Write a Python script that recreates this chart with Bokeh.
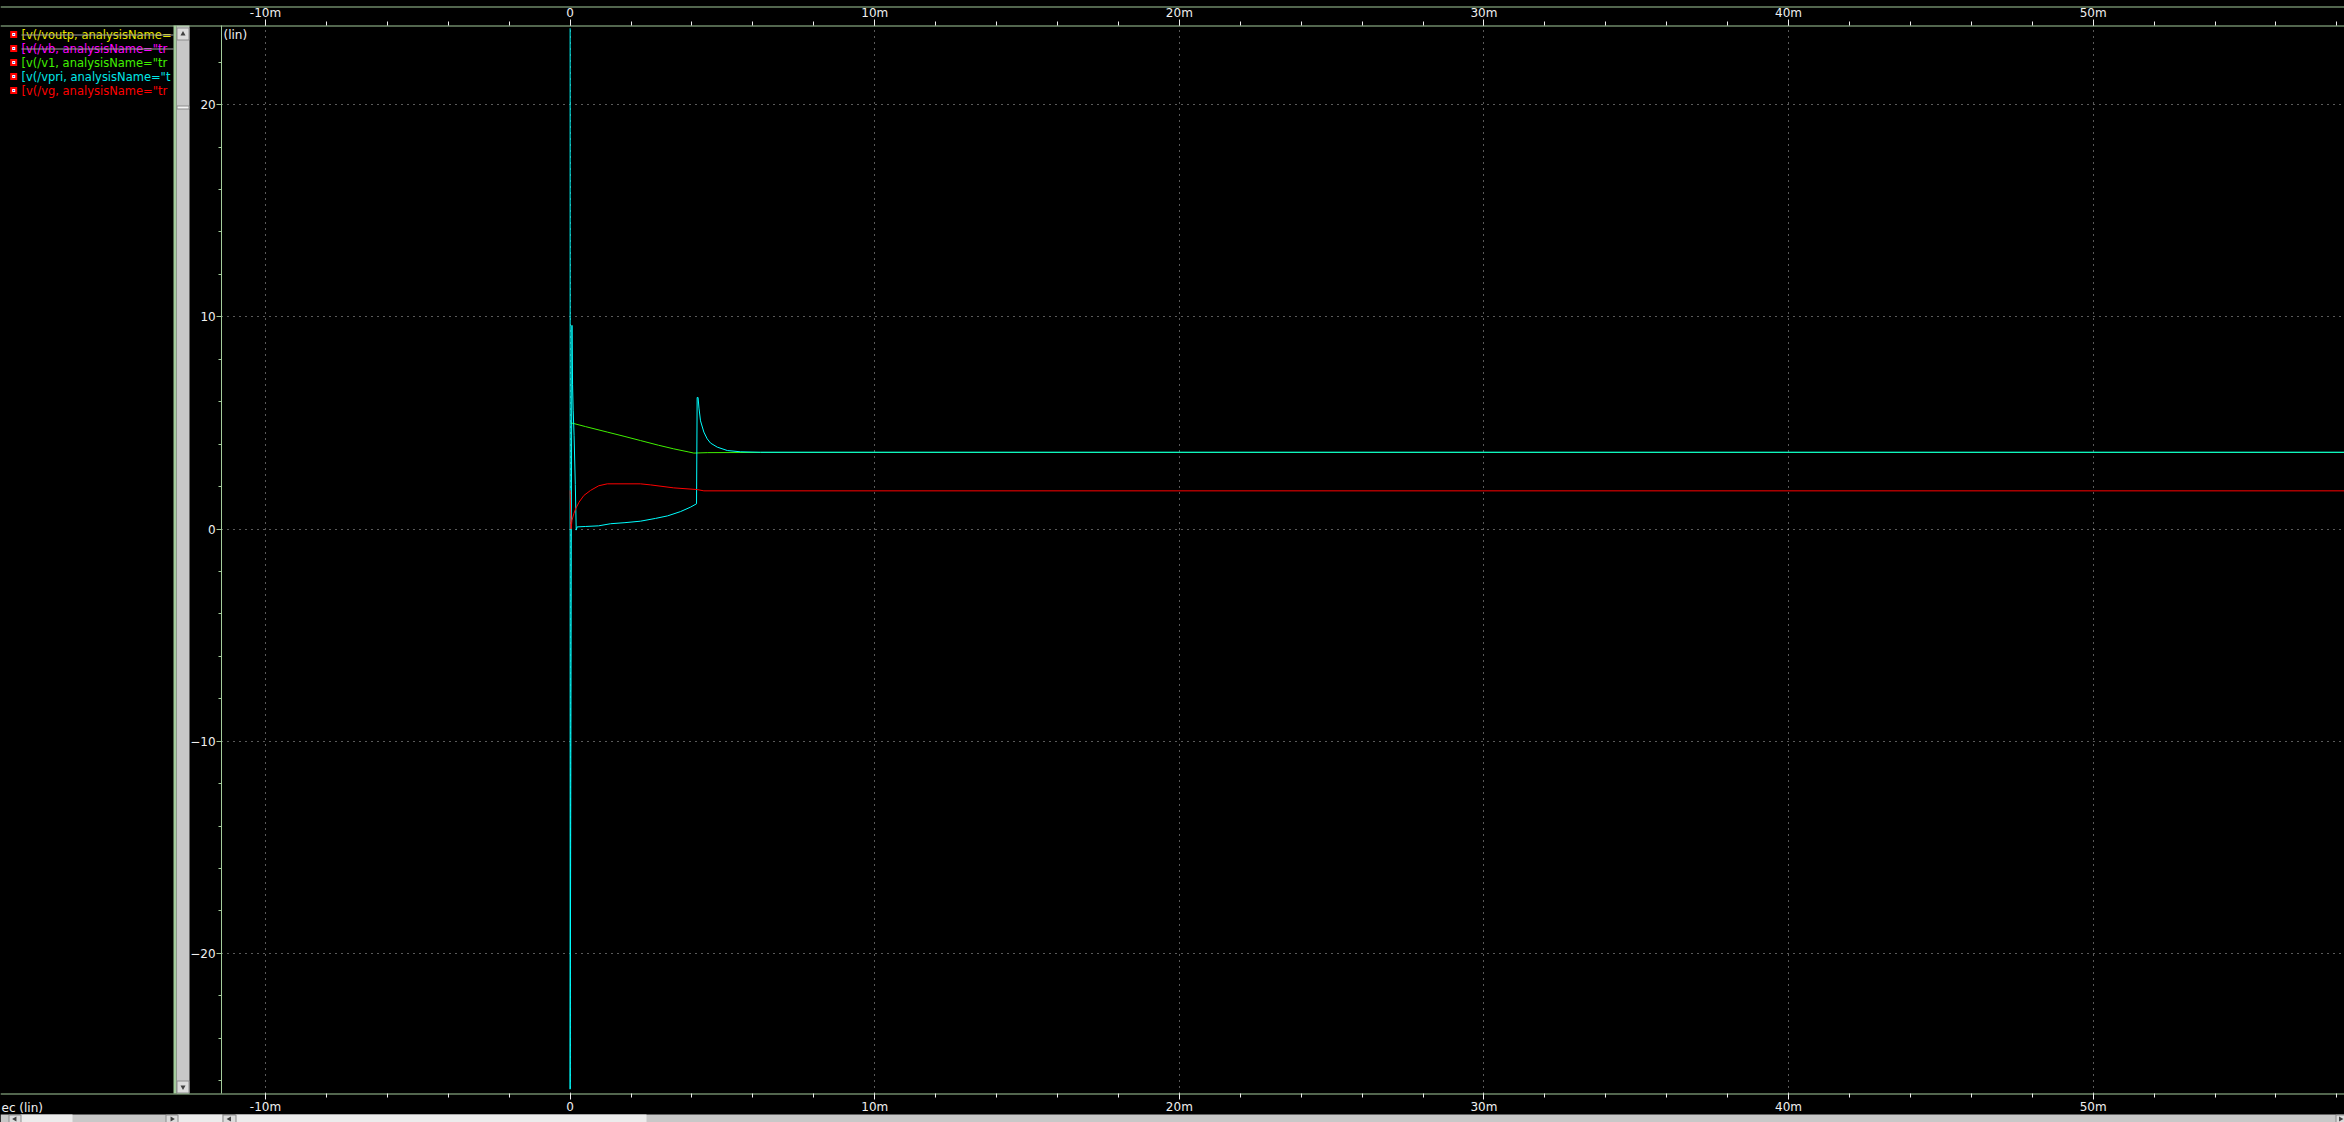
from bokeh.plotting import figure
from bokeh.models import (Range1d, LinearAxis, SingleIntervalTicker, CustomJSTickFormatter,
                          Grid, GlobalInlineStyleSheet)
from bokeh.core.properties import value
from bokeh.embed import file_html
from bokeh.resources import INLINE

# ---------------- data (time in ms, voltage in V) ----------------
t_vpri = [0, 0, 0.04, 0.06, 0.08, 0.10, 0.13, 0.17, 0.20, 0.23, 0.5, 0.93, 1.33, 1.8, 2.31, 2.8,
          3.2, 3.62, 3.95, 4.15, 4.17, 4.20, 4.23, 4.28, 4.39, 4.50, 4.61, 4.83, 5.16, 5.6, 6.25,
          58.3]
v_vpri = [23.6, -26.4, 0.3, 9.6, 6.8, 5.6, 4.4, 2.1, -0.05, 0.10, 0.12, 0.15, 0.25, 0.30, 0.37,
          0.50, 0.62, 0.82, 1.03, 1.19, 6.2, 6.2, 5.7, 5.1, 4.57, 4.25, 4.05, 3.86, 3.70, 3.64,
          3.62, 3.62]

t_v1 = [0, 0.1, 0.5, 1.22, 1.8, 2.31, 2.9, 3.4, 3.9, 4.06, 4.5, 6.25, 58.3]
v_v1 = [5.0, 4.98, 4.83, 4.57, 4.36, 4.17, 3.95, 3.78, 3.63, 3.58, 3.60, 3.61, 3.61]

t_vg = [0, 0.03, 0.06, 0.12, 0.18, 0.29, 0.45, 0.67, 0.94, 1.22, 2.31, 2.64, 3.4, 4.17, 4.39, 58.3]
v_vg = [1.82, 0.0, 0.4, 0.72, 0.95, 1.26, 1.58, 1.82, 2.04, 2.13, 2.13, 2.08, 1.94, 1.86, 1.80, 1.80]

legend_labels = ['[v(/voutp, analysisName=', '[v(/vb, analysisName="tr',
                 '[v(/v1, analysisName="tr', '[v(/vpri, analysisName="t',
                 '[v(/vg, analysisName="tr']
legend_colors = ["#e6e600", "#ff00ff", "#40f000", "#00e8e8", "#ff0000"]
legend_hidden = [True, True, False, False, False]

x_ticks_major = [-10, 0, 10, 20, 30, 40, 50]   # ms
y_ticks_major = [-20, -10, 0, 10, 20]

# visible window (ms / V)
X_PLOT_L, X_PLOT_R = -11.44, 58.25
Y_PLOT_B, Y_PLOT_T = -26.60, 23.73
# whole canvas in the same units
X_CANVAS_L = -18.70
Y_CANVAS_B, Y_CANVAS_T = -27.97, 24.91

# ---------------- styling ----------------
GREEN = "#a4cc9c"
TXT = "#f0f0f0"
FONT = "DejaVu Sans"
W, H = 2344, 1122

p = figure(width=W, height=H, x_range=Range1d(X_CANVAS_L, X_PLOT_R),
           y_range=Range1d(Y_CANVAS_B, Y_CANVAS_T), x_axis_type=None, y_axis_type=None,
           output_backend="svg", toolbar_location=None, min_border=0,
           background_fill_color="black", border_fill_color="black", outline_line_color=None)
p.extra_x_ranges = {"px": Range1d(0, W)}
p.extra_y_ranges = {"px": Range1d(H, 0)}
PX = dict(x_range_name="px", y_range_name="px")

fmt = CustomJSTickFormatter(code="return tick == 0 ? '0' : tick.toFixed(0) + 'm';")


def xaxis(loc, place):
    ax = LinearAxis(ticker=SingleIntervalTicker(interval=10, num_minor_ticks=5), formatter=fmt,
                    fixed_location=loc, bounds=(X_PLOT_L, X_PLOT_R))
    ax.axis_line_color = None
    ax.major_tick_line_color = TXT
    ax.minor_tick_line_color = TXT
    ax.major_tick_out = 6
    ax.minor_tick_out = 4
    ax.major_tick_in = 0
    ax.minor_tick_in = 0
    ax.major_label_text_color = TXT
    ax.major_label_text_font = FONT
    ax.major_label_text_font_size = "12px"
    ax.major_label_standoff = 1 if place == "below" else 0
    p.add_layout(ax, place)


xaxis(Y_PLOT_B, "below")
xaxis(Y_PLOT_T, "above")

yax = LinearAxis(ticker=SingleIntervalTicker(interval=10, num_minor_ticks=5),
                 fixed_location=X_PLOT_L, bounds=(Y_PLOT_B, Y_PLOT_T))
yax.axis_line_color = GREEN
yax.major_tick_line_color = GREEN
yax.minor_tick_line_color = GREEN
yax.major_tick_out = 5
yax.minor_tick_out = 3
yax.major_tick_in = 0
yax.minor_tick_in = 0
yax.major_label_text_color = TXT
yax.major_label_text_font = FONT
yax.major_label_text_font_size = "12px"
yax.major_label_standoff = 1
p.add_layout(yax, "left")

GRID_COLOR = "#b4b4b4"
if "cross_bounds" in Grid.properties():
    gx = Grid(dimension=0, ticker=SingleIntervalTicker(interval=10), bounds=(X_PLOT_L, X_PLOT_R),
              cross_bounds=(Y_PLOT_B, Y_PLOT_T), grid_line_color=GRID_COLOR, grid_line_dash="1 5")
    gy = Grid(dimension=1, ticker=SingleIntervalTicker(interval=10), bounds=(Y_PLOT_B, Y_PLOT_T),
              cross_bounds=(X_PLOT_L, X_PLOT_R), grid_line_color=GRID_COLOR, grid_line_dash="1 5")
    p.add_layout(gx, "center")
    p.add_layout(gy, "center")
else:
    p.segment(x0=x_ticks_major, x1=x_ticks_major, y0=[Y_PLOT_B] * 7, y1=[Y_PLOT_T] * 7,
              line_color=GRID_COLOR, line_dash="1 5")
    p.segment(x0=[X_PLOT_L] * 5, x1=[X_PLOT_R] * 5, y0=y_ticks_major, y1=y_ticks_major,
              line_color=GRID_COLOR, line_dash="1 5")

# ---------------- traces ----------------
p.line(t_v1, v_v1, line_color="#40f000", line_width=1)
p.line(t_vpri, v_vpri, line_color="#00ffff", line_width=1)
p.line(t_vg, v_vg, line_color="#ff0000", line_width=1)

# ---------------- window chrome (pixel coordinates) ----------------
p.text(x=[223], y=[34], text=["(lin)"], text_color=TXT, text_font=value(FONT),
       text_font_size="12px", text_baseline="middle", text_align="left", **PX)

# legend panel
rows_y = [34, 48, 62, 76, 90]
p.text(x=[21] * 5, y=rows_y, text=legend_labels, text_color=legend_colors,
       text_font=value(FONT), text_font_size="11.5px", text_baseline="middle", **PX)
for yy, hid in zip(rows_y, legend_hidden):
    if hid:
        p.line([21, 173], [yy + 0.5, yy + 0.5], line_color="#a0a0a0", line_width=1, **PX)
p.rect(x=[13.2] * 5, y=rows_y, width=7, height=7, fill_color="#ff0000", line_color=None, **PX)
p.rect(x=[13.2] * 5, y=rows_y, width=3, height=3, fill_color="#ffffff", line_color=None, **PX)
p.rect(x=[13.2] * 5, y=rows_y, width=1.2, height=1.2, fill_color="#2030ff", line_color=None, **PX)

# divider strip and vertical scrollbar
p.quad(left=173, right=176, top=25, bottom=1093, fill_color=GREEN, line_color=None, **PX)
p.quad(left=176, right=189, top=25, bottom=1093, fill_color="#c8c8c8", line_color=None, **PX)
p.quad(left=176.5, right=188.5, top=27.5, bottom=39.5, fill_color="#dcdcdc",
       line_color="#8c8c8c", **PX)
p.quad(left=176.5, right=188.5, top=1080.5, bottom=1092.5, fill_color="#dcdcdc",
       line_color="#8c8c8c", **PX)
p.quad(left=176.5, right=188.5, top=105.5, bottom=108.5, fill_color="#f4f4f4",
       line_color="#8c8c8c", **PX)
p.scatter(x=[182.5], y=[33.5], marker="triangle", size=5, fill_color="#404040",
          line_color=None, **PX)
p.scatter(x=[182.5], y=[1086.5], marker="inverted_triangle", size=5, fill_color="#404040",
          line_color=None, **PX)

# panel border lines
for yy in (6.5, 25.5, 1093.5):
    p.line([0, W], [yy, yy], line_color=GREEN, line_width=1, **PX)

p.text(x=[1], y=[1107], text=["ec (lin)"], text_color=TXT, text_font=value(FONT),
       text_font_size="12px", text_baseline="middle", **PX)

# bottom horizontal scrollbar
p.quad(left=0, right=W, top=1114, bottom=1122, fill_color="#c8c8c8", line_color=None, **PX)
p.quad(left=[20, 177, 235], right=[72, 222, 646], top=1114, bottom=1122,
       fill_color="#ececec", line_color=None, **PX)
p.quad(left=[8.5, 165.5, 222.5, 2335.5], right=[20.5, 177.5, 235.5, 2344],
       top=1114.5, bottom=1122, fill_color="#dcdcdc", line_color="#8c8c8c", **PX)
p.scatter(x=[14.5, 229], y=[1118.5, 1118.5], marker="triangle", angle=1.5708, size=5,
          fill_color="#404040", line_color=None, **PX)
p.scatter(x=[171.5, 2340], y=[1118.5, 1118.5], marker="triangle", angle=-1.5708, size=5,
          fill_color="#404040", line_color=None, **PX)

p.stylesheets = [GlobalInlineStyleSheet(
    css="html, body { margin: 0 !important; padding: 0; overflow: hidden; background: black; }")]

open("out.html", "w").write(file_html(p, INLINE))
